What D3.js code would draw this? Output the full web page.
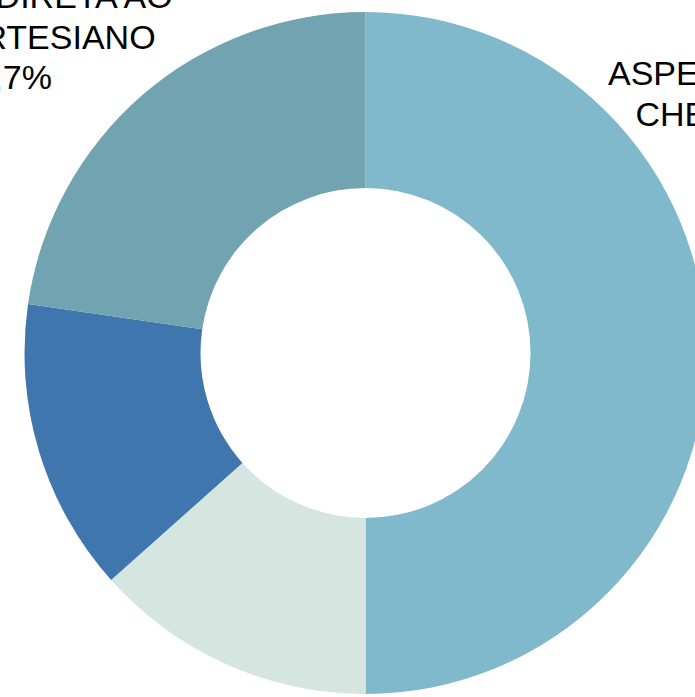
<html>
<head>
	<script src="https://d3js.org/d3.v7.min.js"></script>
	<style>
		body { margin: 0; background: #fff; }
		text { font-family: "Liberation Sans", Arial, sans-serif; }
	</style>
</head>
<body>

<script>
// dados
var categorias = ["ASPERSÃO DA ÁGUA", "CATEGORIA B", "CATEGORIA C", "LIGAÇÃO DIRETA AO POÇO ARTESIANO"];
var valores = [50.0, 13.4, 13.9, 22.7];
var cores = ["#80b8cc", "#d4e6df", "#3e76ad", "#72a3b1"];
// linhas dos rotulos visiveis
var rotuloDir = ["ASPERSÃO DA ÁGUA", "CHEIRO DA ÁGUA", "50,0%"];
var rotuloEsq = ["LIGAÇÃO DIRETA AO", "POÇO ARTESIANO", "22,7%"];

var w = 695; //largura
var h = 697; //altura
var cx = 365.5, cy = 353;
var rOut = 341, rIn = 165;

var svg = d3.select("body").append("svg").attr("width", w).attr("height", h);

var pie = d3.pie().sort(null).value(function(d){ return d; });
var arc = d3.arc().innerRadius(rIn).outerRadius(rOut);

var g = svg.append("g").attr("transform", "translate(" + cx + "," + cy + ")");
g.selectAll("path")
	.data(pie(valores))
	.enter()
	.append("path")
	.attr("d", arc)
	.attr("fill", function(d, i){ return cores[i]; });

// rotulo da direita (centralizado, cortado pela borda)
var fs = 34, lh = 40.5;
var td = svg.append("text").attr("font-size", fs).attr("text-anchor", "middle").attr("fill", "#000");
rotuloDir.forEach(function(t, i){
	td.append("tspan").attr("y", 85 + i * lh).text(t);
});
var w0 = td.select("tspan").node().getComputedTextLength();
td.selectAll("tspan").attr("x", 608 + w0 / 2);

// rotulo da esquerda
var te = svg.append("text").attr("font-size", fs).attr("text-anchor", "middle").attr("fill", "#000");
rotuloEsq.forEach(function(t, i){
	te.append("tspan").attr("y", 8 + i * lh).text(t);
});
var w2 = te.selectAll("tspan").nodes()[2].getComputedTextLength();
te.selectAll("tspan").attr("x", 52 - w2 / 2);
</script>

</body>
</html>
